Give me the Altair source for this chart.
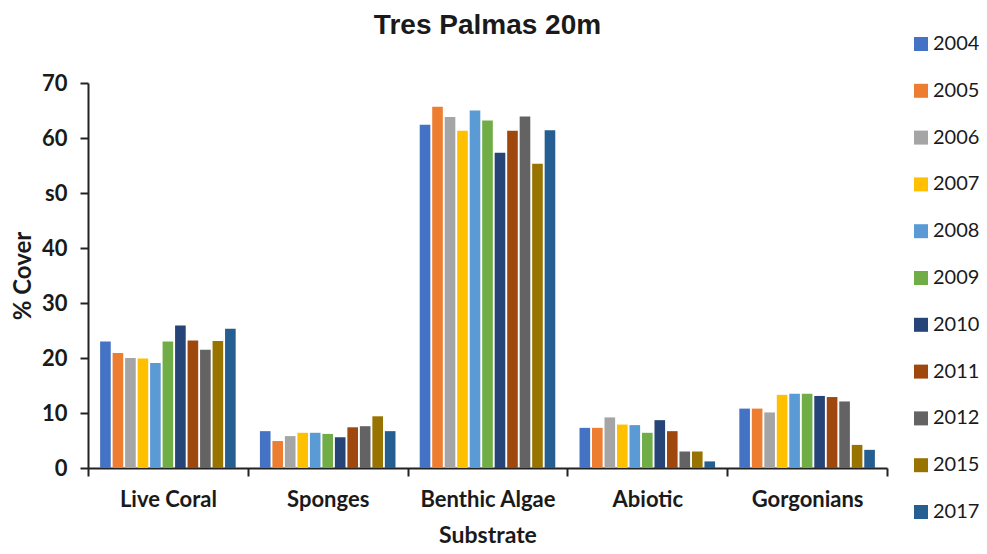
import altair as alt
import pandas as pd

categories = ["Live Coral", "Sponges", "Benthic Algae", "Abiotic", "Gorgonians"]
years = ["2004", "2005", "2006", "2007", "2008", "2009", "2010", "2011", "2012", "2015", "2017"]
colors = ["#4472C4", "#ED7D31", "#A5A5A5", "#FFC000", "#5B9BD5", "#70AD47",
          "#264478", "#9E480E", "#636363", "#997300", "#255E91"]

live_coral = [23.0, 20.9, 20.0, 19.9, 19.1, 23.0, 25.9, 23.2, 21.5, 23.1, 25.3]
sponges = [6.7, 4.9, 5.8, 6.4, 6.4, 6.2, 5.6, 7.4, 7.6, 9.4, 6.7]
benthic_algae = [62.4, 65.7, 63.8, 61.3, 65.0, 63.2, 57.3, 61.3, 63.9, 55.3, 61.4]
abiotic = [7.3, 7.3, 9.2, 7.9, 7.8, 6.4, 8.7, 6.7, 3.0, 3.0, 1.2]
gorgonians = [10.8, 10.8, 10.1, 13.3, 13.5, 13.5, 13.1, 12.9, 12.1, 4.2, 3.3]

series = [live_coral, sponges, benthic_algae, abiotic, gorgonians]
rows = []
for cat, vals in zip(categories, series):
    for yr, v in zip(years, vals):
        rows.append({"Substrate": cat, "Year": yr, "Cover": v})
df = pd.DataFrame(rows)

chart = alt.Chart(df).mark_bar().encode(
    x=alt.X("Substrate:N", sort=categories,
            scale=alt.Scale(paddingInner=0, paddingOuter=0),
            axis=alt.Axis(title="Substrate", labelAngle=0, tickBand="extent",
                          labelFont="Lato", labelFontWeight="bold", labelFontSize=22,
                          labelColor="#1a1a1a", labelPadding=13,
                          titleFont="Lato", titleFontWeight="bold", titleFontSize=23,
                          titleColor="#1a1a1a", titlePadding=14,
                          domainColor="#222222", domainWidth=2,
                          tickColor="#222222", tickWidth=2, tickSize=8)),
    xOffset=alt.XOffset("Year:N", sort=years,
                        scale=alt.Scale(paddingInner=0.15, paddingOuter=0.97)),
    y=alt.Y("Cover:Q", scale=alt.Scale(domain=[0, 70]),
            axis=alt.Axis(title="% Cover", values=[0, 10, 20, 30, 40, 50, 60, 70],
                          labelExpr="datum.value == 50 ? 's0' : datum.label",
                          grid=False,
                          labelFont="Lato", labelFontWeight="bold", labelFontSize=22,
                          labelColor="#1a1a1a", labelPadding=13,
                          titleFont="Lato", titleFontWeight="bold", titleFontSize=24,
                          titleColor="#1a1a1a", titlePadding=6,
                          domainColor="#222222", domainWidth=2,
                          tickColor="#222222", tickWidth=2, tickSize=8)),
    color=alt.Color("Year:N", sort=years,
                    scale=alt.Scale(domain=years, range=colors),
                    legend=alt.Legend(title=None, orient="none", legendX=823, legendY=-49,
                                      symbolType="square", symbolSize=196,
                                      symbolStrokeWidth=0,
                                      labelFont="Lato", labelFontSize=20,
                                      labelColor="#1a1a1a", rowPadding=26.8,
                                      padding=0, labelOffset=2)),
).properties(
    width=799, height=385,
    autosize=alt.AutoSizeParams(type="none"),
    padding={"left": 80, "top": 75, "right": 92, "bottom": 78},
    title=alt.TitleParams("Tres Palmas 20m", font="Liberation Sans", fontSize=28,
                          fontWeight="bold", color="#1a1a1a", offset=-6, anchor="middle"),
).configure_view(stroke=None)

chart.save("out.html", embed_options={"renderer": "svg", "actions": False})
